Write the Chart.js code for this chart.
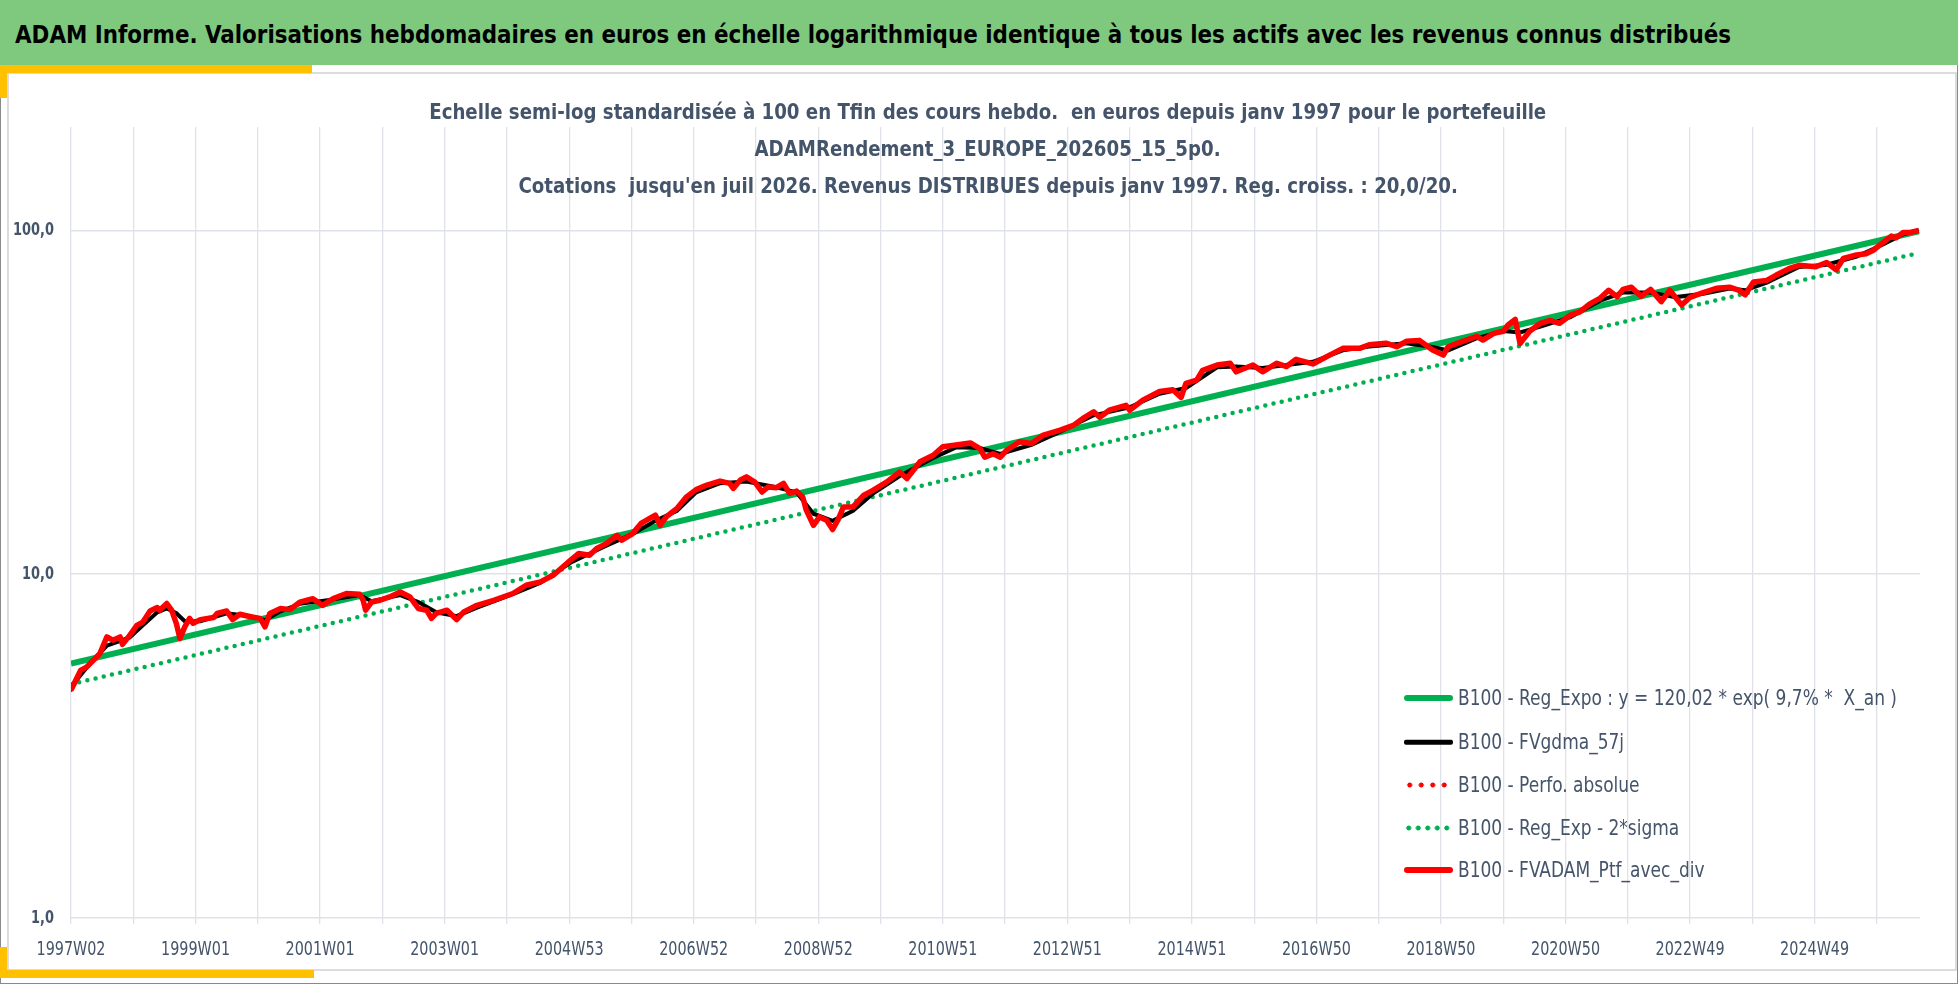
<!DOCTYPE html>
<html><head><meta charset="utf-8">
<script src="https://cdn.jsdelivr.net/npm/chart.js@4.4.1/dist/chart.umd.min.js"></script>
<style>
html,body{margin:0;padding:0;width:1958px;height:984px;overflow:hidden;background:#fff;}
body{position:relative;font-family:"DejaVu Sans Condensed","DejaVu Sans",sans-serif;}
.abs{position:absolute;}
#frame{left:0;top:0;width:1956px;height:982px;border:1px solid #8a8a8a;}
#panel{left:7px;top:72px;width:1946px;height:895px;border:2px solid #dcdcdc;}
#band{left:0;top:0;width:1958px;height:65px;background:#7fc97f;}
#bandWrap{left:15px;top:34px;transform:translateY(-50%);}
#bandText{display:inline-block;font-weight:bold;color:#000;white-space:pre;transform-origin:left center;}
.y{background:#ffc000;}
#cw{left:0;top:0;width:1958px;height:984px;}
.tl{left:18px;width:1940px;text-align:center;transform:translateY(-50%);}
.tl span{display:inline-block;font-weight:bold;color:#44546a;white-space:pre;transform-origin:center center;}
.lg{left:1404px;width:540px;height:30px;transform:translateY(-50%);}
.lg .s{position:absolute;left:0;top:50%;width:49px;transform:translateY(-50%);}
.lg .tx{position:absolute;left:54px;top:50%;transform:translateY(-50%);}
.lg .tx span{display:inline-block;color:#44546a;white-space:pre;transform-origin:left center;}
</style></head>
<body>
<div id="frame" class="abs"></div>
<div id="panel" class="abs"></div>
<div id="band" class="abs"></div>
<div id="bandWrap" class="abs"><span id="bandText">ADAM Informe. Valorisations hebdomadaires en euros en échelle logarithmique identique à tous les actifs avec les revenus connus distribués</span></div>
<div class="abs y" style="left:0;top:65px;width:312px;height:8px;"></div>
<div class="abs y" style="left:0;top:65px;width:7px;height:33px;"></div>
<div class="abs y" style="left:0;top:947px;width:7px;height:31px;"></div>
<div class="abs y" style="left:0;top:970px;width:314px;height:8px;"></div>
<div id="cw" class="abs"><canvas id="c" width="1958" height="984"></canvas></div>
<div class="abs tl" style="top:111px;"><span id="t1"></span></div>
<div class="abs tl" style="top:148px;"><span id="t2"></span></div>
<div class="abs tl" style="top:185px;"><span id="t3"></span></div>
<div id="legend"></div>
<script>
// ---- DATA ----
const chartTitleLines = [
  "Echelle semi-log standardisée à 100 en Tfin des cours hebdo.  en euros depuis janv 1997 pour le portefeuille",
  "ADAMRendement_3_EUROPE_202605_15_5p0.",
  "Cotations  jusqu'en juil 2026. Revenus DISTRIBUES depuis janv 1997. Reg. croiss. : 20,0/20."
];
const seriesNames = [
  "B100 - Reg_Expo : y = 120,02 * exp( 9,7% *  X_an )",
  "B100 - FVgdma_57j",
  "B100 - Perfo. absolue",
  "B100 - Reg_Exp - 2*sigma",
  "B100 - FVADAM_Ptf_avec_div"
];
const tickLabels = ['1997W02','1999W01','2001W01','2003W01','2004W53','2006W52','2008W52','2010W51','2012W51','2014W51','2016W50','2018W50','2020W50','2022W49','2024W49'];
const yTickValues = [1, 10, 100];
const yTickLabels = ['1,0', '10,0', '100,0'];

// week index from 1997W02
const ptfWeeks = [0,8,13,24,30,35,41,43,49,55,60,66,72,74,80,84,88,91,95,99,102,108,119,122,130,135,141,151,158,162,166,175,183,191,202,210,219,230,241,244,246,251,258,266,275,283,290,297,301,305,314,322,328,339,353,369,380,392,403,417,424,433,439,447,456,460,469,476,488,492,497,506,514,522,531,542,550,553,559,564,571,577,582,589,595,600,606,611,614,620,625,631,636,641,645,653,662,670,681,692,698,709,720,728,739,751,759,763,770,776,781,792,802,812,826,837,845,854,859,867,881,884,895,909,920,927,931,940,945,957,968,973,987,995,1007,1015,1023,1037,1051,1062,1076,1084,1098,1107,1115,1126,1137,1146,1150,1162,1174,1179,1188,1196,1200,1206,1210,1218,1227,1235,1243,1252,1260,1268,1277,1284,1291,1296,1303,1311,1319,1328,1335,1345,1352,1363,1374,1385,1393,1398,1405,1416,1424,1435,1443,1457,1466,1474,1480,1491,1499,1505,1513,1520,1524,1530,1535,1543];
const ptfValues = [4.6,5.25,5.37,5.87,6.57,6.43,6.57,6.25,6.64,7.1,7.26,7.82,8.0,7.86,8.22,7.86,7.18,6.5,7.03,7.44,7.2,7.38,7.48,7.69,7.82,7.38,7.65,7.51,7.44,7.03,7.69,7.95,7.89,8.3,8.49,8.12,8.49,8.79,8.75,8.4,7.86,8.3,8.4,8.59,8.88,8.59,7.95,7.86,7.44,7.69,7.86,7.38,7.77,8.12,8.4,8.79,9.29,9.5,9.95,10.98,11.49,11.36,11.88,12.28,12.98,12.56,13.13,14.05,14.85,13.88,14.68,15.54,16.79,17.63,18.17,18.66,18.38,17.77,18.8,19.2,18.54,17.35,17.93,17.86,18.38,17.18,17.45,16.79,15.36,13.88,14.68,14.36,13.49,14.52,15.7,15.7,16.98,17.56,18.54,19.83,18.98,21.24,22.18,23.5,23.77,24.1,23.2,21.9,22.4,21.9,22.9,24.3,24.0,25.4,26.27,27.1,28.4,29.7,28.6,30.0,31.0,30.0,32.1,34.0,34.4,32.7,35.9,36.7,39.2,40.6,41.1,38.8,40.6,38.8,41.1,40.2,42.2,40.9,43.4,45.4,45.4,46.5,47.0,45.9,47.6,47.9,44.9,43.4,45.9,47.6,49.2,48.0,50.2,50.9,53.1,55.1,46.9,50.9,53.7,54.8,53.7,56.7,58.0,61.1,63.6,67.0,64.2,67.4,68.4,64.4,67.4,62.1,67.0,60.7,63.9,66.0,67.9,68.4,67.0,65.0,70.8,71.6,74.2,77.6,79.2,78.4,80.7,76.9,82.9,84.9,85.6,87.6,92.2,96.3,95.2,98.7,98.6,100.0];

const gdmaWeeks = [0,13,30,49,60,72,80,88,95,108,130,150,162,175,191,219,241,251,275,290,305,322,339,369,392,417,447,469,488,506,522,542,564,589,606,620,636,653,670,692,720,739,759,776,802,826,854,884,909,931,957,973,995,1015,1037,1062,1084,1115,1137,1150,1174,1196,1210,1227,1252,1277,1296,1319,1340,1363,1385,1398,1416,1443,1466,1491,1513,1530,1543];
const gdmaValues = [4.7,5.35,6.2,6.55,7.1,7.75,7.95,7.7,7.3,7.3,7.7,7.55,7.35,7.8,8.2,8.45,8.7,8.35,8.7,8.3,7.75,7.55,8.0,8.75,9.45,10.8,12.1,13.1,14.3,15.3,17.3,18.4,18.6,17.9,17.3,15.0,14.3,15.3,17.2,19.3,21.8,23.4,23.3,22.4,23.8,26.0,29.0,30.6,33.5,34.8,40.0,40.2,39.8,40.6,41.5,44.8,46.0,47.0,45.8,44.8,48.6,51.0,50.5,52.5,56.0,62.5,66.0,66.0,64.0,65.5,67.8,67.0,70.5,78.3,79.5,84.0,91.0,97.5,100.0];

const regWeeks = [0, 1543];
const regValues = [5.5, 99.5];
const sigmaWeeks = [0, 1543];
const sigmaValues = [4.79, 86.0];

// ---- BUILD ----
const FONT = '"DejaVu Sans Condensed","DejaVu Sans",sans-serif';
const pts = (w, v) => w.map((x, i) => ({x: x, y: v[i]}));

function squeezeTo(el, size, target) {
  el.style.fontSize = size + 'px';
  el.style.transform = 'none';
  const w = el.getBoundingClientRect().width;
  const k = target / w;
  el.style.transform = 'scaleX(' + k + ')';
  return k;
}
document.getElementById('t1').textContent = chartTitleLines[0];
document.getElementById('t2').textContent = chartTitleLines[1];
document.getElementById('t3').textContent = chartTitleLines[2];
const tk = squeezeTo(document.getElementById('t1'), 22, 1117);
['t2', 't3'].forEach(id => {
  const e = document.getElementById(id);
  e.style.fontSize = '22px';
  e.style.transform = 'scaleX(' + tk + ')';
});
squeezeTo(document.getElementById('bandText'), 25, 1716);

const legendStyles = [
  'height:6px;background:#00b050;border-radius:3px;',
  'height:4.5px;background:#000;border-radius:2px;',
  'height:6px;background-image:radial-gradient(circle at center,#ff0000 2.2px,transparent 2.8px);background-size:11.5px 6px;background-repeat:repeat-x;',
  'height:6px;background-image:radial-gradient(circle at center,#00b050 2.2px,transparent 2.8px);background-size:9.5px 6px;background-repeat:repeat-x;',
  'height:6px;background:#ff0000;border-radius:3px;'
];
const legendY = [698, 742, 785, 828, 870];
const lgRoot = document.getElementById('legend');
let lgK = 1;
seriesNames.forEach((n, i) => {
  const d = document.createElement('div');
  d.className = 'abs lg';
  d.style.top = legendY[i] + 'px';
  d.innerHTML = '<div class="s" style="' + legendStyles[i] + '"></div><div class="tx"><span></span></div>';
  const sp = d.querySelector('span');
  sp.textContent = n;
  lgRoot.appendChild(d);
  if (i === 0) lgK = squeezeTo(sp, 21, 439);
  else { sp.style.fontSize = '21px'; sp.style.transform = 'scaleX(' + lgK + ')'; }
});

// horizontal compression of canvas tick text (narrow reference font)
const mctx = document.createElement('canvas').getContext('2d');
mctx.font = '20px ' + FONT;
const SX = 69 / mctx.measureText('2018W50').width;
const squeezePlugin = {
  id: 'squeeze',
  beforeDraw(chart) {
    const ctx = chart.ctx;
    const orig = CanvasRenderingContext2D.prototype.fillText;
    ctx.fillText = function (t, x, y, mw) {
      this.save(); this.translate(x, y); this.scale(SX, 1);
      orig.call(this, t, 0, 0); this.restore();
    };
  },
  afterDraw(chart) { delete chart.ctx.fillText; }
};

new Chart(document.getElementById('c'), {
  type: 'line',
  plugins: [squeezePlugin],
  data: {
    datasets: [
      {label: seriesNames[0], data: pts(regWeeks, regValues), borderColor: '#00b050', borderWidth: 6, order: 4},
      {label: seriesNames[1], data: pts(gdmaWeeks, gdmaValues), borderColor: '#000000', borderWidth: 4, order: 2},
      {label: seriesNames[2], data: pts(ptfWeeks, ptfValues), borderColor: '#ff0000', borderWidth: 4, borderDash: [0, 9], borderCapStyle: 'round', order: 1},
      {label: seriesNames[3], data: pts(sigmaWeeks, sigmaValues), borderColor: '#00b050', borderWidth: 4.5, borderDash: [0, 8.4], borderCapStyle: 'round', order: 3},
      {label: seriesNames[4], data: pts(ptfWeeks, ptfValues), borderColor: '#ff0000', borderWidth: 5.5, borderJoinStyle: 'round', order: 0}
    ]
  },
  options: {
    responsive: false,
    animation: false,
    events: [],
    layout: {padding: {left: 0, top: 127, right: 38, bottom: 0}},
    elements: {point: {radius: 0}, line: {tension: 0, fill: false}},
    plugins: {legend: {display: false}, tooltip: {enabled: false}, title: {display: false}},
    scales: {
      x: {
        type: 'linear', min: 0, max: 1544,
        afterFit: s => { s.height = 66; },
        grid: {color: '#dfe2e9', lineWidth: 1.3, tickLength: 6, drawTicks: true},
        border: {display: false},
        ticks: {
          stepSize: 52, includeBounds: false, autoSkip: false, maxRotation: 0, minRotation: 0,
          padding: 14, color: '#44546a', font: {family: FONT, size: 20},
          callback: v => (v % 104 === 0 ? tickLabels[v / 104] : '')
        }
      },
      y: {
        type: 'logarithmic', min: 1, max: 200,
        afterFit: s => { s.width = 71; },
        afterBuildTicks: s => { s.ticks = yTickValues.map(v => ({value: v})); },
        grid: {color: '#dfe2e9', lineWidth: 1.6, drawTicks: false},
        border: {display: false},
        ticks: {
          padding: 17, color: '#44546a', font: {family: FONT, size: 18, weight: 'bold'},
          callback: v => { const i = yTickValues.indexOf(v); return i >= 0 ? yTickLabels[i] : null; }
        }
      }
    }
  }
});
</script>
</body></html>
